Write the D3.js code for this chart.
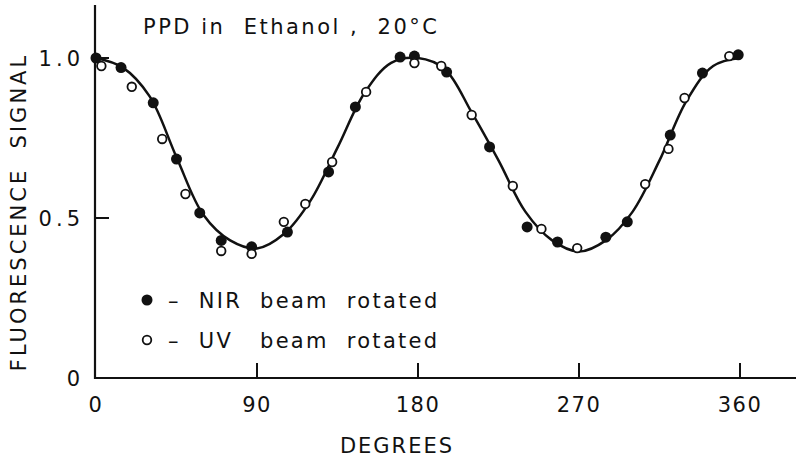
<!DOCTYPE html>
<html>
<head>
<meta charset="utf-8">
<script src="https://cdn.jsdelivr.net/npm/d3@7"></script>
<style>
  body { margin: 0; background: #fff; }
  svg text { font-family: "DejaVu Sans", sans-serif; fill: #111; }
</style>
</head>
<body>
<div id="chart"></div>
<script>
// NIR beam rotated (filled circles)
const nirDeg = [0, 14, 32, 45, 58, 70, 87, 107, 130, 145, 170, 178, 196, 220, 241, 258, 285, 297, 321, 339, 359];
const nirVal = [1.0, 0.97, 0.86, 0.684, 0.516, 0.43, 0.41, 0.456, 0.644, 0.847, 1.003, 1.006, 0.956, 0.722, 0.472, 0.425, 0.44, 0.488, 0.759, 0.953, 1.01];

// UV beam rotated (open circles)
const uvDeg = [3, 20, 37, 50, 70, 87, 105, 117, 132, 151, 178, 193, 210, 233, 249, 269, 307, 320, 329, 354];
const uvVal = [0.975, 0.91, 0.747, 0.575, 0.397, 0.388, 0.488, 0.544, 0.675, 0.894, 0.984, 0.975, 0.822, 0.6, 0.466, 0.406, 0.606, 0.716, 0.875, 1.006];

// fitted curve, read every 15 degrees
const fitDeg = [0, 15, 30, 45, 60, 75, 90, 105, 120, 135, 150, 165, 180, 195, 210, 225, 240, 255, 270, 285, 300, 315, 330, 345, 360];
const fitVal = [1.0, 0.97, 0.88, 0.69, 0.51, 0.43, 0.405, 0.45, 0.555, 0.72, 0.89, 0.985, 1.0, 0.965, 0.83, 0.68, 0.52, 0.43, 0.395, 0.43, 0.52, 0.68, 0.865, 0.975, 1.0];

const xTicks = [0, 90, 180, 270, 360];
const yTicks = [0, 0.5, 1.0];
const yTickLabels = ['0', '0.5', '1.0'];

const svg = d3.select('#chart')
    .append('svg')
    .attr('width', 800)
    .attr('height', 464);

const x = d3.scaleLinear().domain([0, 360]).range([96, 740]);
const y = d3.scaleLinear().domain([0, 1]).range([378, 58]);

// axes lines
svg.append('line')
    .attr('x1', 95).attr('x2', 95)
    .attr('y1', 5).attr('y2', 379)
    .attr('stroke', '#111').attr('stroke-width', 2.2);
svg.append('line')
    .attr('x1', 94).attr('x2', 796)
    .attr('y1', 378).attr('y2', 378)
    .attr('stroke', '#111').attr('stroke-width', 2.2);

// x ticks (inward) and labels
svg.selectAll('.xtick')
    .data(xTicks.filter(d => d > 0))
    .enter()
    .append('line')
    .attr('x1', d => x(d)).attr('x2', d => x(d))
    .attr('y1', 378).attr('y2', 363)
    .attr('stroke', '#111').attr('stroke-width', 2);

svg.selectAll('.xlab')
    .data(xTicks)
    .enter()
    .append('text')
    .attr('x', d => x(d))
    .attr('y', 412)
    .attr('text-anchor', 'middle')
    .style('font-size', '21px')
    .style('letter-spacing', '1.5px')
    .text(d => d);

// y ticks (inward) and labels
svg.selectAll('.ytick')
    .data(yTicks.filter(d => d > 0))
    .enter()
    .append('line')
    .attr('x1', 95).attr('x2', 109)
    .attr('y1', d => y(d)).attr('y2', d => y(d))
    .attr('stroke', '#111').attr('stroke-width', 2);

svg.selectAll('.ylab')
    .data(yTicks)
    .enter()
    .append('text')
    .attr('x', 84)
    .attr('y', d => y(d) + 8)
    .attr('text-anchor', 'end')
    .style('font-size', '21px')
    .style('letter-spacing', '4px')
    .text((d, i) => yTickLabels[i]);

// axis titles
svg.append('text')
    .attr('x', 397)
    .attr('y', 453)
    .attr('text-anchor', 'middle')
    .style('font-size', '21px')
    .style('letter-spacing', '2px')
    .text('DEGREES');

svg.append('text')
    .attr('transform', 'translate(26,212) rotate(-90)')
    .attr('text-anchor', 'middle')
    .style('font-size', '21px')
    .style('letter-spacing', '3px')
    .style('white-space', 'pre')
    .text('FLUORESCENCE  SIGNAL');

svg.append('text')
    .attr('x', 143)
    .attr('y', 34)
    .style('font-size', '21px')
    .style('letter-spacing', '2.5px')
    .style('white-space', 'pre')
    .text('PPD in  Ethanol ,  20°C');

// fitted curve
const line = d3.line()
    .x((d, i) => x(fitDeg[i]))
    .y(d => y(d))
    .curve(d3.curveCatmullRom.alpha(0.5));

svg.append('path')
    .datum(fitVal)
    .attr('fill', 'none')
    .attr('stroke', '#111')
    .attr('stroke-width', 2.5)
    .attr('d', line);

// data points
svg.selectAll('.nir')
    .data(nirVal)
    .enter()
    .append('circle')
    .attr('cx', (d, i) => x(nirDeg[i]))
    .attr('cy', d => y(d))
    .attr('r', 5.5)
    .attr('fill', '#111');

svg.selectAll('.uv')
    .data(uvVal)
    .enter()
    .append('circle')
    .attr('cx', (d, i) => x(uvDeg[i]))
    .attr('cy', d => y(d))
    .attr('r', 4.3)
    .attr('fill', '#fff')
    .attr('stroke', '#111')
    .attr('stroke-width', 1.8);

// legend
const legend = [
    { label: '–  NIR  beam  rotated', filled: true, ly: 300 },
    { label: '–  UV   beam  rotated', filled: false, ly: 340 }
];
legend.forEach(l => {
    svg.append('circle')
        .attr('cx', 147).attr('cy', l.ly)
        .attr('r', l.filled ? 5.5 : 4.3)
        .attr('fill', l.filled ? '#111' : '#fff')
        .attr('stroke', '#111')
        .attr('stroke-width', l.filled ? 0 : 1.8);
    svg.append('text')
        .attr('x', 168)
        .attr('y', l.ly + 8)
        .style('font-size', '21px')
        .style('letter-spacing', '2.3px')
        .style('white-space', 'pre')
        .text(l.label);
});
</script>
</body>
</html>
